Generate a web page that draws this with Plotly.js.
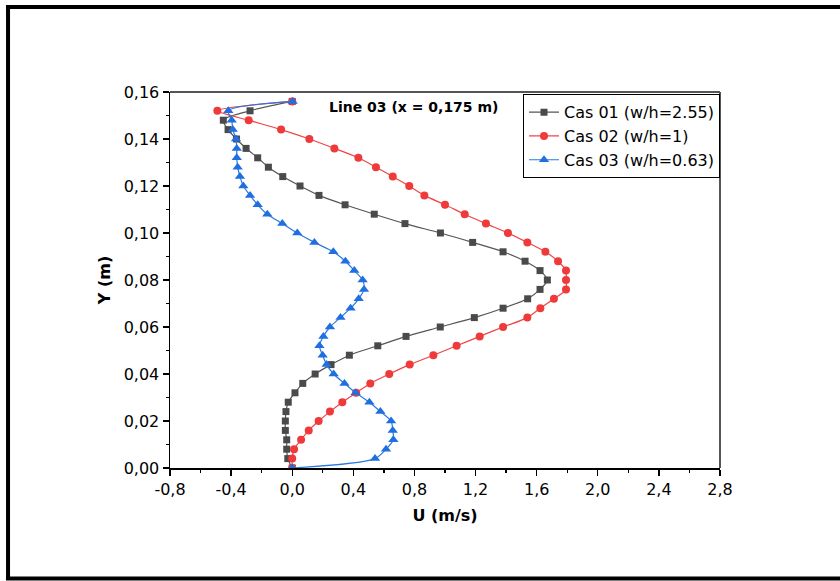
<!DOCTYPE html>
<html>
<head>
<meta charset="utf-8">
<script src="https://cdn.plot.ly/plotly-3.0.1.min.js"></script>
<style>html,body{margin:0;padding:0;background:#fff}#chart{width:840px;height:581px}</style>
</head>
<body>
<div id="chart"></div>
<script>
const yPos = [0, 0.004, 0.008, 0.012, 0.016, 0.020, 0.024, 0.028, 0.032, 0.036,
  0.040, 0.044, 0.048, 0.052, 0.056, 0.060, 0.064, 0.068, 0.072, 0.076,
  0.080, 0.084, 0.088, 0.092, 0.096, 0.100, 0.104, 0.108, 0.112, 0.116,
  0.120, 0.124, 0.128, 0.132, 0.136, 0.140, 0.144, 0.148, 0.152, 0.156];

const cas01 = [0, -0.029, -0.036, -0.036, -0.045, -0.045, -0.041, -0.026, 0.018, 0.069,
  0.150, 0.254, 0.374, 0.560, 0.745, 0.969, 1.192, 1.380, 1.541, 1.622,
  1.670, 1.622, 1.524, 1.380, 1.181, 0.970, 0.738, 0.537, 0.346, 0.175,
  0.051, -0.062, -0.156, -0.226, -0.302, -0.365, -0.420, -0.451, -0.276, 0.0];

const cas02 = [0, 0.0, 0.012, 0.058, 0.108, 0.173, 0.247, 0.328, 0.418, 0.511,
  0.635, 0.769, 0.924, 1.076, 1.227, 1.380, 1.539, 1.624, 1.713, 1.792,
  1.792, 1.792, 1.740, 1.657, 1.539, 1.412, 1.268, 1.129, 1.000, 0.865,
  0.766, 0.658, 0.548, 0.433, 0.276, 0.112, -0.073, -0.285, -0.490, 0.0];

const cas03 = [0, 0.542, 0.614, 0.662, 0.658, 0.647, 0.577, 0.505, 0.415, 0.342,
  0.271, 0.225, 0.199, 0.178, 0.204, 0.247, 0.316, 0.382, 0.435, 0.470,
  0.461, 0.406, 0.348, 0.269, 0.145, 0.033, -0.065, -0.163, -0.226, -0.276,
  -0.320, -0.342, -0.357, -0.363, -0.363, -0.368, -0.389, -0.396, -0.418, 0.003];

const seriesNames = ['Cas 01 (w/h=2.55)', 'Cas 02 (w/h=1)', 'Cas 03 (w/h=0.63)'];

const xTickVals = [-0.8, -0.4, 0.0, 0.4, 0.8, 1.2, 1.6, 2.0, 2.4, 2.8];
const xTickText = ['-0,8', '-0,4', '0,0', '0,4', '0,8', '1,2', '1,6', '2,0', '2,4', '2,8'];
const yTickVals = [0, 0.02, 0.04, 0.06, 0.08, 0.10, 0.12, 0.14, 0.16];
const yTickText = ['0,00', '0,02', '0,04', '0,06', '0,08', '0,10', '0,12', '0,14', '0,16'];

const FONT = 'DejaVu Sans, Liberation Sans, Arial, sans-serif';

const traces = [
  {x: cas01, y: yPos, name: seriesNames[0], type: 'scatter', mode: 'lines+markers',
   line: {color: '#555555', width: 1.2, shape: 'spline', smoothing: 0.8},
   marker: {symbol: 'square', size: 7, color: '#4a4a4a'}},
  {x: cas02, y: yPos, name: seriesNames[1], type: 'scatter', mode: 'lines+markers',
   line: {color: '#f04444', width: 1.2, shape: 'spline', smoothing: 0.8},
   marker: {symbol: 'circle', size: 8, color: '#ee3a3a'}},
  {x: cas03, y: yPos, name: seriesNames[2], type: 'scatter', mode: 'lines+markers',
   line: {color: '#2a78e4', width: 1.2, shape: 'spline', smoothing: 0.8},
   marker: {symbol: 'triangle-up', size: 9, color: '#1f6fe0'}}
];

const layout = {
  width: 840, height: 581,
  margin: {l: 170, r: 120, t: 92, b: 113},
  paper_bgcolor: '#ffffff', plot_bgcolor: '#ffffff',
  font: {family: FONT, color: '#000', size: 16},
  showlegend: true,
  legend: {x: 1, xanchor: 'right', y: 0.994, yanchor: 'top',
           bordercolor: '#000', borderwidth: 1, bgcolor: '#fff',
           font: {family: FONT, size: 16, color: '#000'},
           tracegroupgap: 0, itemwidth: 30},
  xaxis: {range: [-0.8, 2.8], tickmode: 'array', tickvals: xTickVals, ticktext: xTickText,
          ticks: 'outside', ticklen: 6, tickwidth: 1.3, tickcolor: '#000',
          showline: true, linecolor: '#000', linewidth: 1.5,
          showgrid: false, zeroline: false,
          minor: {tickmode: 'linear', tick0: -0.8, dtick: 0.2, ticks: 'outside', ticklen: 3, tickwidth: 1.3, tickcolor: '#000', showgrid: false},
          tickfont: {family: FONT, size: 16, color: '#000'},
          title: {text: '<b>U (m/s)</b>', font: {family: FONT, size: 16, color: '#000'}, standoff: 12}},
  yaxis: {range: [0, 0.16], tickmode: 'array', tickvals: yTickVals, ticktext: yTickText,
          ticks: 'outside', ticklen: 6, tickwidth: 1.3, tickcolor: '#000',
          showline: true, linecolor: '#000', linewidth: 1.5,
          showgrid: false, zeroline: false,
          minor: {tickmode: 'linear', tick0: 0, dtick: 0.01, ticks: 'outside', ticklen: 3, tickwidth: 1.3, tickcolor: '#000', showgrid: false},
          tickfont: {family: FONT, size: 16, color: '#000'},
          title: {text: '<b>Y (m)</b>', font: {family: FONT, size: 16, color: '#000'}, standoff: 9}},
  annotations: [
    {xref: 'paper', yref: 'paper', x: 0.6, y: 0.960, xanchor: 'right', yanchor: 'middle',
     text: '<b>Line 03 (x = 0,175 m)</b>', showarrow: false,
     font: {family: FONT, size: 14, color: '#000'}}
  ],
  shapes: [
    {type: 'line', xref: 'paper', yref: 'paper', x0: 0, x1: 1, y0: 1, y1: 1, line: {color: '#555', width: 2}},
    {type: 'line', xref: 'paper', yref: 'paper', x0: 1, x1: 1, y0: 0, y1: 1, line: {color: '#555', width: 2}},
    {type: 'line', xref: 'paper', yref: 'paper', x0: -0.2945, x1: -0.2945, y0: 1.2314, y1: -0.2979, line: {color: '#000', width: 4}},
    {type: 'line', xref: 'paper', yref: 'paper', x0: -0.2982, x1: 1.24, y0: 1.226, y1: 1.226, line: {color: '#000', width: 4}},
    {type: 'line', xref: 'paper', yref: 'paper', x0: -0.2982, x1: 1.24, y0: -0.2939, y1: -0.2939, line: {color: '#000', width: 4}}
  ]
};

Plotly.newPlot('chart', traces, layout, {displayModeBar: false, staticPlot: true});
</script>
</body>
</html>
